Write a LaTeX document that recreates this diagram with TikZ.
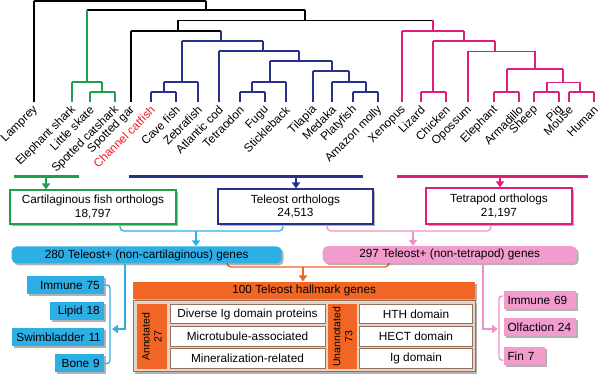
\documentclass[tikz,border=0pt]{standalone}
\usepackage{fontspec}
\setmainfont{Liberation Sans}
\usetikzlibrary{arrows.meta,shadows}
\definecolor{tgreen}{RGB}{30,160,75}
\definecolor{tnavy}{RGB}{40,48,140}
\definecolor{tpink}{RGB}{226,30,125}
\definecolor{tred}{RGB}{232,30,40}
\definecolor{cyanF}{RGB}{45,175,230}
\definecolor{pinkF}{RGB}{242,155,205}
\definecolor{pinkL}{RGB}{238,145,198}
\definecolor{orangeF}{RGB}{241,102,36}
\definecolor{brownL}{RGB}{150,112,92}
\definecolor{tanF}{RGB}{228,212,198}
\begin{document}
\begin{tikzpicture}[x=1pt,y=-1pt,
  font=\fontsize{11.8}{13.5}\selectfont,
  th/.style={line width=1.1pt},
  tv/.style={line width=2.6pt},
  leaf/.style={rotate=45, anchor=east, inner sep=0pt},
  shad/.style={drop shadow={shadow xshift=2pt, shadow yshift=-2pt, opacity=0.3, fill=black}},
  orth/.style={draw, line width=1.2pt, fill=white, align=center, inner sep=0pt, shad},
  tbox/.style={rounded corners=5pt, inner sep=0pt, minimum height=17pt, shad},
  colbar/.style={line width=3pt},
  arrdn/.style={-{Triangle[width=8pt,length=6pt]}, line width=2pt},
  brace/.style={line width=1.3pt, rounded corners=4pt},
  lbox/.style={fill=cyanF, inner xsep=4pt, inner ysep=0pt, minimum height=18pt, align=right, anchor=east, shad},
  rbox/.style={fill=pinkF, inner xsep=4pt, inner ysep=0pt, minimum height=18.6pt, align=left, anchor=west, shad},
  cell/.style={draw=brownL, line width=0.8pt, fill=white, inner sep=0pt, minimum height=19.5pt},
  vcell/.style={fill=orangeF, inner sep=0pt, minimum height=65pt},
  vtext/.style={rotate=90, align=center, inner sep=0pt, font=\fontsize{10.5}{12}\selectfont}
]
\useasboundingbox (0,0) rectangle (600,387);

% ---------- tree: black ----------
\draw[th] (34,1) -- (206,1);
\draw[tv] (34,1) -- (34,102);
\draw[tv] (206,1) -- (206,10);
\draw[th] (87,10) -- (305,10);
\draw[tv] (305,10) -- (305,20.5);
\draw[th] (178,20.5) -- (433,20.5);
\draw[tv] (178,20.5) -- (178,31);
\draw[th] (131,31) -- (221,31);
\draw[tv] (131,31) -- (131,102);
% ---------- tree: green ----------
\begin{scope}[tgreen]
\draw[tv] (87,10) -- (87,82);
\draw[th] (72,82) -- (102,82);
\draw[tv] (72,82) -- (72,102);
\draw[tv] (102,82) -- (102,92);
\draw[th] (90,92) -- (115,92);
\draw[tv] (90,92) -- (90,102);
\draw[tv] (115,92) -- (115,102);
\end{scope}
% ---------- tree: blue ----------
\begin{scope}[tnavy]
\draw[tv] (221,31) -- (221,41);
\draw[th] (182,41) -- (263,41);
\draw[tv] (182,41) -- (182,82);
\draw[th] (164,82) -- (198,82);
\draw[tv] (164,82) -- (164,92);
\draw[th] (151,92) -- (176,92);
\draw[tv] (151,92) -- (151,102);
\draw[tv] (176,92) -- (176,102);
\draw[tv] (198,82) -- (198,102);
\draw[tv] (263,41) -- (263,51);
\draw[th] (219,51) -- (299,51);
\draw[tv] (219,51) -- (219,102);
\draw[tv] (299,51) -- (299,61);
\draw[th] (270,61) -- (332,61);
\draw[tv] (270,61) -- (270,82);
\draw[th] (252,82) -- (286,82);
\draw[tv] (252,82) -- (252,92);
\draw[th] (240,92) -- (265,92);
\draw[tv] (240,92) -- (240,102);
\draw[tv] (265,92) -- (265,102);
\draw[tv] (286,82) -- (286,102);
\draw[tv] (332,61) -- (332,71);
\draw[th] (313,71) -- (349,71);
\draw[tv] (313,71) -- (313,102);
\draw[tv] (349,71) -- (349,82);
\draw[th] (332,82) -- (366,82);
\draw[tv] (332,82) -- (332,102);
\draw[tv] (366,82) -- (366,92);
\draw[th] (353,92) -- (378,92);
\draw[tv] (353,92) -- (353,102);
\draw[tv] (378,92) -- (378,102);
\end{scope}
% ---------- tree: pink ----------
\begin{scope}[tpink]
\draw[tv] (433,20.5) -- (433,31);
\draw[th] (402,31) -- (464,31);
\draw[tv] (402,31) -- (402,102);
\draw[tv] (464,31) -- (464,41);
\draw[th] (433,41) -- (495,41);
\draw[tv] (433,41) -- (433,92);
\draw[th] (421,92) -- (446,92);
\draw[tv] (421,92) -- (421,102);
\draw[tv] (446,92) -- (446,102);
\draw[tv] (495,41) -- (495,51.5);
\draw[th] (468,51.5) -- (535,51.5);
\draw[tv] (468,51.5) -- (468,102);
\draw[tv] (535,51.5) -- (535,69);
\draw[th] (507,69) -- (563,69);
\draw[tv] (507,69) -- (507,92);
\draw[th] (494,92) -- (519,92);
\draw[tv] (494,92) -- (494,102);
\draw[tv] (519,92) -- (519,102);
\draw[tv] (563,69) -- (563,82.5);
\draw[th] (547,82.5) -- (580,82.5);
\draw[tv] (547,82.5) -- (547,92);
\draw[th] (534,92) -- (559,92);
\draw[tv] (534,92) -- (534,102);
\draw[tv] (559,92) -- (559,102);
\draw[tv] (580,82.5) -- (580,92);
\draw[th] (569,92) -- (594,92);
\draw[tv] (569,92) -- (569,102);
\draw[tv] (594,92) -- (594,102);
\end{scope}

% ---------- leaf labels ----------
\foreach \n/\x [count=\i] in {Lamprey/34, Elephant shark/72, Little skate/90, Spotted catshark/115,
  Spotted gar/131, Cave fish/176, Zebrafish/198, Atlantic cod/219, Tetraodon/240, Fugu/265,
  Stickleback/286, Tilapia/313, Medaka/332, Platyfish/353, Amazon molly/378, Xenopus/402,
  Lizard/421, Chicken/446, Opossum/468, Elephant/494, Armadillo/519, Sheep/534, Pig/559,
  Mouse/569, Human/594}
  \node[leaf] (leaf\i) at (\x+2,108) {\n};
\node[leaf, text=tred] (leafcc) at (153,108) {Channel catfish};

% ---------- colour bars and arrows ----------
\draw[colbar, tgreen] (14,177) -- (79,177);
\draw[colbar, tnavy] (129,176.5) -- (363,176.5);
\draw[colbar, tpink] (397,176.5) -- (588,176.5);
\coordinate (gsrc) at (46,177);
\coordinate (bsrc) at (296,176.5);
\coordinate (psrc) at (500,176.5);

\node[orth, draw=tgreen, minimum width=166pt, minimum height=34pt] (cart) at (93,207) {Cartilaginous fish orthologs\\18,797};
\node[orth, draw=tnavy, minimum width=155pt, minimum height=35pt] (tele) at (295.5,206.5) {Teleost orthologs\\24,513};
\node[orth, draw=tpink, minimum width=146pt, minimum height=36pt] (tetra) at (499,206) {Tetrapod orthologs\\21,197};

\draw[arrdn, tgreen] (gsrc) -- (gsrc |- cart.north);
\draw[arrdn, tnavy] (bsrc) -- (bsrc |- tele.north);
\draw[arrdn, tpink] (psrc) -- (psrc |- tetra.north);

% ---------- braces under ortholog boxes ----------
\draw[brace, cyanF] (120,226) -- (120,231) -- (283,231) -- (283,226);
\draw[brace, pinkL] (327,226) -- (327,231) -- (491,231) -- (491,226);
\coordinate (cbr) at (196,231);
\coordinate (pbr) at (413,231);

% orange brace (under the gene boxes)
\draw[brace, orangeF] (227,261) -- (227,267) -- (389,267) -- (389,261);
\coordinate (obr) at (303,267);

\node[tbox, fill=cyanF, minimum width=270pt] (b280) at (146.7,255) {280 Teleost+ (non-cartilaginous) genes};
\node[tbox, fill=pinkF, minimum width=254pt] (b297) at (449.7,254.7) {297 Teleost+ (non-tetrapod) genes};

\draw[arrdn, cyanF] (cbr) -- (cbr |- b280.north);
\draw[arrdn, pinkL] (pbr) -- (pbr |- b297.north);

% ---------- hallmark box and table ----------
\node[fill=orangeF, minimum width=342pt, minimum height=17.6pt, inner sep=0pt, shad] (hall) at (304.2,290.5) {100 Teleost hallmark genes};
\draw[arrdn, orangeF] (obr) -- (obr |- hall.north);

\node[draw=brownL, line width=1pt, fill=tanF, minimum width=342pt, minimum height=71pt, inner sep=0pt, shad] (tab) at (304,336.5) {};
\node[vcell, minimum width=30pt] (ann) at (151.7,336.8) {};
\node[vtext] (anntxt) at (ann) {Annotated\\27};
\node[vcell, minimum width=28.4pt] (unann) at (342.5,336.8) {};
\node[vtext] (unanntxt) at (unann) {Unannotated\\73};
\node[cell, minimum width=155pt] (l1) at (247.5,314) {Diverse Ig domain proteins};
\node[cell, minimum width=155pt] (l2) at (247.5,336.2) {Microtubule-associated};
\node[cell, minimum width=155pt] (l3) at (247.5,358.6) {Mineralization-related};
\node[cell, minimum width=113.4pt] (r1) at (416,314) {HTH domain};
\node[cell, minimum width=113.4pt] (r2) at (416,336.2) {HECT domain};
\node[cell, minimum width=113.4pt] (r3) at (416,358.6) {Ig domain};

% ---------- left (cyan) branch ----------
\coordinate (cturn) at (125,329);
\coordinate (cend) at (112,329);
\draw[line width=2.4pt, cyanF, -{Triangle[width=8pt,length=6pt]}] (cturn |- b280.south) -- (cturn) -- (cend);
\node[lbox, text width=69pt] (im75) at (104,285) {Immune 75};
\node[lbox, text width=46pt] (lip18) at (104,311) {Lipid 18};
\node[lbox, text width=86pt, inner xsep=3pt] (swim11) at (104,337.5) {Swimbladder 11};
\node[lbox, text width=41pt] (bone9) at (104,363.5) {Bone 9};
\draw[brace, cyanF, rounded corners=3pt] (im75.east) -- (110,285) -- (110,363.5) -- (bone9.east);

% ---------- right (pink) branch ----------
\coordinate (pturn) at (483,329);
\coordinate (pend) at (498,329);
\draw[line width=2.4pt, pinkL, -{Triangle[width=8pt,length=6pt]}] (pturn |- b297.south) -- (pturn) -- (pend);
\node[rbox, text width=64.7pt] (im69) at (503.3,300) {Immune 69};
\node[rbox, text width=64.7pt] (olf24) at (503.3,327.2) {Olfaction 24};
\node[rbox, text width=33pt] (fin7) at (503.3,356.2) {Fin 7};
\draw[brace, pinkL, rounded corners=3pt] ([yshift=4pt]im69.west) -- (499,296) -- (499,360) -- ([yshift=-4pt]fin7.west);
\end{tikzpicture}
\end{document}
